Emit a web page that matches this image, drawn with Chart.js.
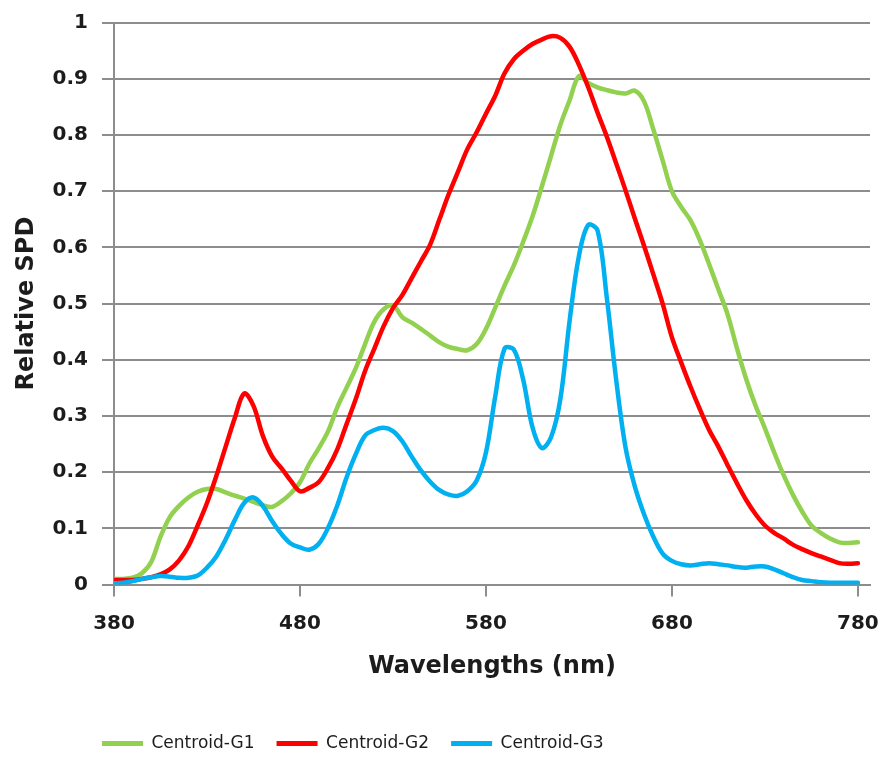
<!DOCTYPE html>
<html>
<head>
<meta charset="utf-8">
<title>Relative SPD of centroids</title>
<script src="https://cdn.jsdelivr.net/npm/chart.js@4.4.1/dist/chart.umd.min.js"></script>
<style>
  html, body { margin: 0; padding: 0; background: #ffffff; }
  #wrap { width: 887px; height: 776px; position: relative; }
</style>
</head>
<body>
<div id="wrap"><canvas id="spd" width="887" height="776"></canvas></div>
<script>
// Wavelength samples (nm)
const wavelengths = [
  380, 385, 390, 395, 400, 405, 410, 415, 420, 425,
  430, 435, 440, 445, 450, 455, 460, 465, 470, 475,
  480, 485, 490, 495, 500, 505, 510, 515, 520, 525,
  530, 535, 540, 545, 550, 555, 560, 565, 570, 575,
  580, 585, 590, 595, 600, 605, 610, 615, 620, 625,
  630, 635, 640, 645, 650, 655, 660, 665, 670, 675,
  680, 685, 690, 695, 700, 705, 710, 715, 720, 725,
  730, 735, 740, 745, 750, 755, 760, 765, 770, 775,
  780
];

// Relative spectral power distribution of each centroid
const centroidG1 = [
  0.010, 0.010, 0.012, 0.020, 0.040, 0.085, 0.120, 0.140, 0.155, 0.165,
  0.170, 0.170, 0.164, 0.158, 0.153, 0.147, 0.141, 0.138, 0.148, 0.162,
  0.182, 0.215, 0.242, 0.272, 0.315, 0.350, 0.385, 0.428, 0.468, 0.490,
  0.497, 0.476, 0.466, 0.455, 0.443, 0.431, 0.423, 0.419, 0.417, 0.428,
  0.455, 0.493, 0.532, 0.568, 0.610, 0.655, 0.708, 0.763, 0.818, 0.862,
  0.905, 0.893, 0.885, 0.880, 0.876, 0.874, 0.879, 0.860, 0.810, 0.755,
  0.700, 0.672, 0.648, 0.613, 0.570, 0.525, 0.480, 0.420, 0.365, 0.318,
  0.278, 0.235, 0.195, 0.160, 0.130, 0.105, 0.092, 0.082, 0.075, 0.074,
  0.075
];

const centroidG2 = [
  0.008, 0.008, 0.008, 0.010, 0.013, 0.018, 0.027, 0.043, 0.068, 0.105,
  0.145, 0.193, 0.245, 0.297, 0.340, 0.318, 0.265, 0.228, 0.207, 0.185,
  0.166, 0.172, 0.182, 0.207, 0.240, 0.285, 0.330, 0.380, 0.420, 0.460,
  0.492, 0.515, 0.545, 0.575, 0.605, 0.650, 0.695, 0.735, 0.775, 0.805,
  0.838, 0.870, 0.910, 0.935, 0.950, 0.962, 0.970, 0.976, 0.973, 0.957,
  0.925, 0.885, 0.840, 0.797, 0.750, 0.702, 0.652, 0.603, 0.552, 0.500,
  0.440, 0.395, 0.352, 0.312, 0.275, 0.245, 0.212, 0.180, 0.150, 0.125,
  0.105, 0.092, 0.082, 0.071, 0.063, 0.056, 0.050, 0.044, 0.038, 0.037,
  0.038
];

const centroidG3 = [
  0.002, 0.003, 0.006, 0.010, 0.013, 0.015, 0.014, 0.012, 0.012, 0.016,
  0.030, 0.050, 0.080, 0.115, 0.145, 0.155, 0.140, 0.113, 0.090, 0.073,
  0.066, 0.062, 0.072, 0.100, 0.140, 0.190, 0.232, 0.265, 0.275, 0.279,
  0.273, 0.255, 0.228, 0.203, 0.183, 0.168, 0.160, 0.158, 0.166, 0.185,
  0.235, 0.335, 0.420, 0.418, 0.365, 0.280, 0.243, 0.262, 0.330, 0.470,
  0.585, 0.640, 0.630, 0.510, 0.365, 0.245, 0.175, 0.125, 0.085, 0.055,
  0.042, 0.036, 0.034, 0.036, 0.038, 0.036, 0.034, 0.031, 0.030, 0.032,
  0.032, 0.027, 0.020, 0.013, 0.008, 0.006, 0.004, 0.003, 0.003, 0.003,
  0.003
];

const seriesNames = ['Centroid-G1', 'Centroid-G2', 'Centroid-G3'];
const seriesColors = ['#92D050', '#FF0000', '#00B0F0'];
const xTickValues = [380, 480, 580, 680, 780];
const yTickLabels = ['0', '0.1', '0.2', '0.3', '0.4', '0.5', '0.6', '0.7', '0.8', '0.9', '1'];

const gridColor = '#8d8d8d';
const textColor = '#1c1c1c';

function toPoints(values) {
  return wavelengths.map((w, i) => ({ x: w, y: values[i] }));
}

const seriesValues = [centroidG1, centroidG2, centroidG3];
const datasets = seriesValues.map((vals, i) => ({
  label: seriesNames[i],
  data: toPoints(vals),
  borderColor: seriesColors[i],
  backgroundColor: seriesColors[i],
  borderWidth: 4.5,
  pointRadius: 0,
  tension: 0.35,
  borderCapStyle: 'round',
  borderJoinStyle: 'round',
  fill: false,
  order: seriesValues.length - i   // later series are painted above earlier ones
}));

// Moves the legend row horizontally after layout
const legendShift = {
  id: 'legendShift',
  afterLayout(chart, args, opts) {
    const lg = chart.legend;
    if (!lg) return;
    lg.left += opts.dx;
    lg.right += opts.dx;
  }
};

// Keep the plot area edges fixed by the layout padding alone
function noEdgePadding(scale) {
  scale.paddingLeft = 0;
  scale.paddingRight = 0;
  scale.paddingTop = 0;
  scale.paddingBottom = 0;
}

new Chart(document.getElementById('spd'), {
  type: 'line',
  data: { datasets },
  plugins: [legendShift],
  options: {
    responsive: false,
    animation: false,
    layout: { padding: { top: 22.7, right: 17, bottom: 14, left: 0 } },
    plugins: {
      legendShift: { dx: 80 },
      tooltip: { enabled: false },
      legend: {
        position: 'bottom',
        align: 'start',
        labels: {
          boxWidth: 41,
          boxHeight: 5,
          padding: 22,
          color: textColor,
          font: { family: 'DejaVu Sans', size: 17 },
          sort: (a, b) => a.datasetIndex - b.datasetIndex,
          generateLabels(chart) {
            return Chart.defaults.plugins.legend.labels.generateLabels(chart)
              .map(item => Object.assign(item, { lineWidth: 0 }));
          }
        }
      }
    },
    scales: {
      x: {
        type: 'linear',
        min: 380,
        max: 786.5,
        afterBuildTicks(scale) {
          scale.ticks = xTickValues.map(v => ({ value: v }));
        },
        afterFit: noEdgePadding,
        ticks: {
          color: textColor,
          padding: 15,
          maxRotation: 0,
          font: { family: 'DejaVu Sans', size: 20, weight: 'bold' },
          callback: (v) => String(v)
        },
        grid: {
          drawOnChartArea: false,
          drawTicks: true,
          tickLength: 12,
          color: gridColor,
          lineWidth: 2
        },
        border: { display: true, color: gridColor, width: 2 },
        title: {
          display: true,
          text: 'Wavelengths (nm)',
          color: textColor,
          font: { family: 'DejaVu Sans', size: 24, weight: 'bold' },
          padding: { top: 2, bottom: 31.7 }
        }
      },
      y: {
        min: 0,
        max: 1,
        afterFit(scale) {
          scale.width = 114;
          noEdgePadding(scale);
        },
        ticks: {
          stepSize: 0.1,
          color: textColor,
          padding: 14,
          font: { family: 'DejaVu Sans', size: 20, weight: 'bold' },
          callback: (v, i) => yTickLabels[i]
        },
        grid: {
          drawTicks: true,
          tickLength: 12,
          color: gridColor,
          lineWidth: 2
        },
        border: { display: true, color: gridColor, width: 2 },
        title: {
          display: true,
          text: 'Relative SPD',
          color: textColor,
          font: { family: 'DejaVu Sans', size: 24, weight: 'bold' },
          padding: { top: 12.6, bottom: 0 }
        }
      }
    }
  }
});
</script>
</body>
</html>
